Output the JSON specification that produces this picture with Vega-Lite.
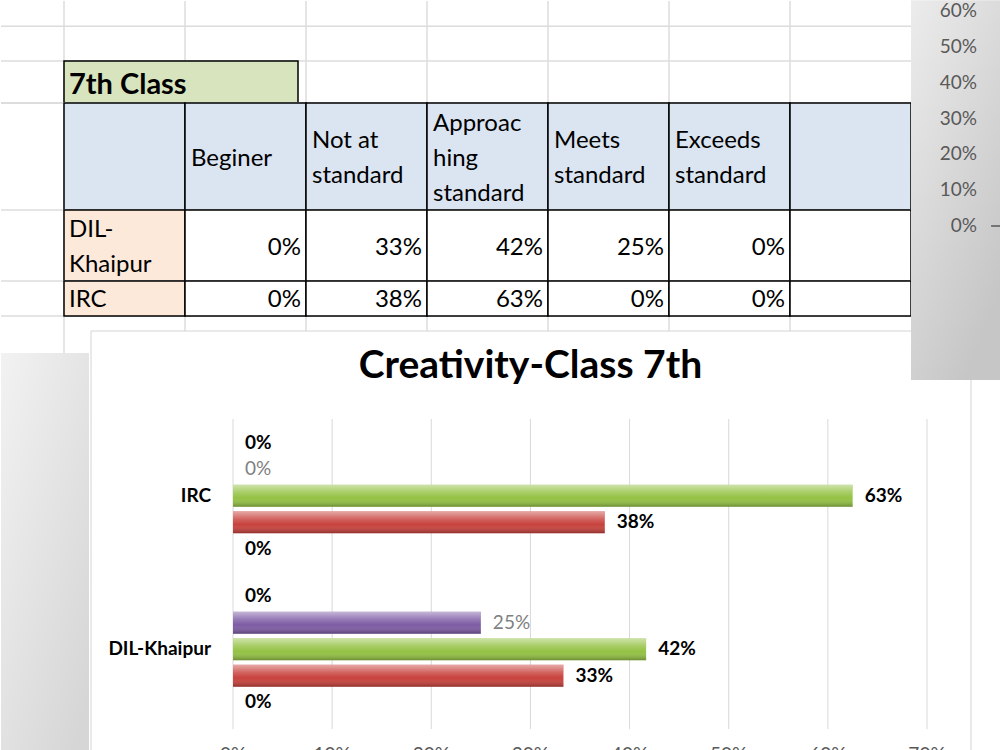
{
  "$schema": "https://vega.github.io/schema/vega-lite/v6.json",
  "width": 1000,
  "height": 750,
  "autosize": {"type": "fit", "contains": "padding"},
  "padding": 0,
  "background": "#ffffff",
  "config": {"view": {"stroke": null}, "font": "Lato"},
  "datasets": {
    "scores": [
      {"school": "DIL-Khaipur", "level": "Beginer", "value": 0},
      {"school": "DIL-Khaipur", "level": "Not at standard", "value": 0.3333},
      {"school": "DIL-Khaipur", "level": "Approaching standard", "value": 0.4167},
      {"school": "DIL-Khaipur", "level": "Meets standard", "value": 0.25},
      {"school": "DIL-Khaipur", "level": "Exceeds standard", "value": 0},
      {"school": "IRC", "level": "Beginer", "value": 0},
      {"school": "IRC", "level": "Not at standard", "value": 0.375},
      {"school": "IRC", "level": "Approaching standard", "value": 0.625},
      {"school": "IRC", "level": "Meets standard", "value": 0},
      {"school": "IRC", "level": "Exceeds standard", "value": 0}
    ],
    "columns": [
      {"column": "School", "header": ""},
      {"column": "Beginer", "header": "Beginer"},
      {"column": "Not at standard", "header": "Not at\nstandard"},
      {"column": "Approaching standard", "header": "Approac\nhing\nstandard"},
      {"column": "Meets standard", "header": "Meets\nstandard"},
      {"column": "Exceeds standard", "header": "Exceeds\nstandard"},
      {"column": "Blank", "header": ""}
    ],
    "schools": [
      {"school": "DIL-Khaipur", "cell": "DIL-\nKhaipur"},
      {"school": "IRC", "cell": "IRC"}
    ],
    "ticks": [
      {"tick": 0}, {"tick": 0.1}, {"tick": 0.2}, {"tick": 0.3},
      {"tick": 0.4}, {"tick": 0.5}, {"tick": 0.6}, {"tick": 0.7}
    ],
    "sideTicks": [
      {"tick": 0}, {"tick": 0.1}, {"tick": 0.2}, {"tick": 0.3},
      {"tick": 0.4}, {"tick": 0.5}, {"tick": 0.6}
    ]
  },
  "resolve": {"scale": {"x": "independent", "y": "independent", "yOffset": "independent", "color": "independent"}},
  "layer": [
    {
      "data": {"name": "columns"},
      "mark": {"type": "rule", "color": "#dcdcdc", "strokeWidth": 1.5},
      "encoding": {
        "x": {"field": "column", "type": "nominal", "bandPosition": 0,
          "scale": {"domain": ["School", "Beginer", "Not at standard", "Approaching standard", "Meets standard", "Exceeds standard", "Blank"], "range": [63, 910], "paddingInner": 0, "paddingOuter": 0},
          "axis": null}
      }
    },
    {
      "data": {"values": [{"title": "7th Class"}]},
      "layer": [
        {
          "mark": {"type": "rule", "color": "#dcdcdc", "strokeWidth": 1.5},
          "encoding": {
            "y": {"datum": 0, "type": "quantitative", "scale": {"domain": [0, 1], "range": [60, 102]}, "axis": null}
          }
        },
        {
          "mark": {"type": "rule", "color": "#dcdcdc", "strokeWidth": 1.5},
          "encoding": {
            "y": {"datum": -0.83, "type": "quantitative", "scale": {"domain": [0, 1], "range": [60, 102]}, "axis": null}
          }
        },
        {
          "mark": {"type": "rect", "fill": "#d7e4bd", "stroke": "#000000", "strokeWidth": 1.5},
          "encoding": {
            "x": {"datum": 0, "type": "quantitative", "scale": {"domain": [0, 1], "range": [63, 297]}, "axis": null},
            "x2": {"datum": 1},
            "y": {"datum": 0, "type": "quantitative", "scale": {"domain": [0, 1], "range": [60, 102]}, "axis": null},
            "y2": {"datum": 1}
          }
        },
        {
          "mark": {"type": "text", "align": "left", "baseline": "middle", "dx": 5, "dy": 3, "fontSize": 29, "fontWeight": "bold", "color": "#000000"},
          "encoding": {
            "x": {"datum": 0, "type": "quantitative", "scale": {"domain": [0, 1], "range": [63, 297]}, "axis": null},
            "y": {"datum": 0.5, "type": "quantitative", "scale": {"domain": [0, 1], "range": [60, 102]}, "axis": null},
            "text": {"field": "title"}
          }
        }
      ]
    },
    {
      "data": {"name": "columns"},
      "encoding": {
        "x": {"field": "column", "type": "nominal",
          "scale": {"domain": ["School", "Beginer", "Not at standard", "Approaching standard", "Meets standard", "Exceeds standard", "Blank"], "range": [63, 910], "paddingInner": 0, "paddingOuter": 0},
          "axis": null}
      },
      "layer": [
        {
          "mark": {"type": "rule", "color": "#dcdcdc", "strokeWidth": 1.5},
          "encoding": {
            "x": null,
            "y": {"datum": 0, "type": "quantitative", "scale": {"domain": [0, 1], "range": [102, 209]}, "axis": null}
          }
        },
        {
          "mark": {"type": "rect", "fill": "#dbe5f1", "stroke": "#000000", "strokeWidth": 1.5},
          "encoding": {
            "y": {"datum": 0, "type": "quantitative", "scale": {"domain": [0, 1], "range": [102, 209]}, "axis": null},
            "y2": {"datum": 1}
          }
        },
        {
          "transform": [{"filter": "length(split(datum.header, '\\n')) === 1"}],
          "mark": {"type": "text", "align": "left", "baseline": "middle", "dx": 6, "dy": 2, "fontSize": 24, "lineBreak": "\n", "lineHeight": 35, "color": "#000000"},
          "encoding": {
            "x": {"field": "column", "type": "nominal", "bandPosition": 0, "axis": null},
            "y": {"datum": 0.5, "type": "quantitative", "scale": {"domain": [0, 1], "range": [102, 209]}, "axis": null},
            "text": {"field": "header"}
          }
        },
        {
          "transform": [{"filter": "length(split(datum.header, '\\n')) === 2"}],
          "mark": {"type": "text", "align": "left", "baseline": "middle", "dx": 6, "dy": -15.5, "fontSize": 24, "lineBreak": "\n", "lineHeight": 35, "color": "#000000"},
          "encoding": {
            "x": {"field": "column", "type": "nominal", "bandPosition": 0, "axis": null},
            "y": {"datum": 0.5, "type": "quantitative", "scale": {"domain": [0, 1], "range": [102, 209]}, "axis": null},
            "text": {"field": "header"}
          }
        },
        {
          "transform": [{"filter": "length(split(datum.header, '\\n')) === 3"}],
          "mark": {"type": "text", "align": "left", "baseline": "middle", "dx": 6, "dy": -33, "fontSize": 24, "lineBreak": "\n", "lineHeight": 35, "color": "#000000"},
          "encoding": {
            "x": {"field": "column", "type": "nominal", "bandPosition": 0, "axis": null},
            "y": {"datum": 0.5, "type": "quantitative", "scale": {"domain": [0, 1], "range": [102, 209]}, "axis": null},
            "text": {"field": "header"}
          }
        }
      ]
    },
    {
      "layer": [
        {
          "data": {"values": [{"line": "sheet row"}]},
          "mark": {"type": "rule", "color": "#dcdcdc", "strokeWidth": 1.5},
          "encoding": {
            "y": {"datum": 0, "type": "quantitative", "scale": {"domain": [0, 1], "range": [209, 280]}, "axis": null}
          }
        },
        {
          "data": {"name": "columns"},
          "mark": {"type": "rect", "stroke": "#000000", "strokeWidth": 1.5},
          "encoding": {
            "x": {"field": "column", "type": "nominal",
              "scale": {"domain": ["School", "Beginer", "Not at standard", "Approaching standard", "Meets standard", "Exceeds standard", "Blank"], "range": [63, 910], "paddingInner": 0, "paddingOuter": 0},
              "axis": null},
            "y": {"datum": 0, "type": "quantitative", "scale": {"domain": [0, 1], "range": [209, 280]}, "axis": null},
            "y2": {"datum": 1},
            "color": {"condition": {"test": "datum.column === 'School'", "value": "#fde9d9"}, "value": "#ffffff"}
          }
        },
        {
          "data": {"name": "schools"},
          "transform": [{"filter": "datum.school === 'DIL-Khaipur'"}],
          "mark": {"type": "text", "align": "left", "baseline": "middle", "dx": 5, "dy": -16, "fontSize": 24, "lineBreak": "\n", "lineHeight": 35, "color": "#000000"},
          "encoding": {
            "x": {"datum": "School", "type": "nominal", "bandPosition": 0,
              "scale": {"domain": ["School", "Beginer", "Not at standard", "Approaching standard", "Meets standard", "Exceeds standard", "Blank"], "range": [63, 910], "paddingInner": 0, "paddingOuter": 0},
              "axis": null},
            "y": {"datum": 0.5, "type": "quantitative", "scale": {"domain": [0, 1], "range": [209, 280]}, "axis": null},
            "text": {"field": "cell"}
          }
        },
        {
          "data": {"name": "scores"},
          "transform": [{"filter": "datum.school === 'DIL-Khaipur'"}],
          "mark": {"type": "text", "align": "right", "baseline": "middle", "dx": -5, "dy": 2, "fontSize": 24, "color": "#000000"},
          "encoding": {
            "x": {"field": "level", "type": "nominal", "bandPosition": 1,
              "scale": {"domain": ["School", "Beginer", "Not at standard", "Approaching standard", "Meets standard", "Exceeds standard", "Blank"], "range": [63, 910], "paddingInner": 0, "paddingOuter": 0},
              "axis": null},
            "y": {"datum": 0.5, "type": "quantitative", "scale": {"domain": [0, 1], "range": [209, 280]}, "axis": null},
            "text": {"field": "value", "type": "quantitative", "format": ".0%"}
          }
        }
      ]
    },
    {
      "layer": [
        {
          "data": {"values": [{"line": "sheet row"}]},
          "layer": [
            {
              "mark": {"type": "rule", "color": "#dcdcdc", "strokeWidth": 1.5},
              "encoding": {
                "y": {"datum": 0, "type": "quantitative", "scale": {"domain": [0, 1], "range": [280, 315]}, "axis": null}
              }
            },
            {
              "mark": {"type": "rule", "color": "#dcdcdc", "strokeWidth": 1.5},
              "encoding": {
                "y": {"datum": 1, "type": "quantitative", "scale": {"domain": [0, 1], "range": [280, 315]}, "axis": null}
              }
            }
          ]
        },
        {
          "data": {"name": "columns"},
          "mark": {"type": "rect", "stroke": "#000000", "strokeWidth": 1.5},
          "encoding": {
            "x": {"field": "column", "type": "nominal",
              "scale": {"domain": ["School", "Beginer", "Not at standard", "Approaching standard", "Meets standard", "Exceeds standard", "Blank"], "range": [63, 910], "paddingInner": 0, "paddingOuter": 0},
              "axis": null},
            "y": {"datum": 0, "type": "quantitative", "scale": {"domain": [0, 1], "range": [280, 315]}, "axis": null},
            "y2": {"datum": 1},
            "color": {"condition": {"test": "datum.column === 'School'", "value": "#fde9d9"}, "value": "#ffffff"}
          }
        },
        {
          "data": {"name": "schools"},
          "transform": [{"filter": "datum.school === 'IRC'"}],
          "mark": {"type": "text", "align": "left", "baseline": "middle", "dx": 5, "dy": 1, "fontSize": 24, "lineBreak": "\n", "lineHeight": 35, "color": "#000000"},
          "encoding": {
            "x": {"datum": "School", "type": "nominal", "bandPosition": 0,
              "scale": {"domain": ["School", "Beginer", "Not at standard", "Approaching standard", "Meets standard", "Exceeds standard", "Blank"], "range": [63, 910], "paddingInner": 0, "paddingOuter": 0},
              "axis": null},
            "y": {"datum": 0.5, "type": "quantitative", "scale": {"domain": [0, 1], "range": [280, 315]}, "axis": null},
            "text": {"field": "cell"}
          }
        },
        {
          "data": {"name": "scores"},
          "transform": [{"filter": "datum.school === 'IRC'"}],
          "mark": {"type": "text", "align": "right", "baseline": "middle", "dx": -5, "dy": 1, "fontSize": 24, "color": "#000000"},
          "encoding": {
            "x": {"field": "level", "type": "nominal", "bandPosition": 1,
              "scale": {"domain": ["School", "Beginer", "Not at standard", "Approaching standard", "Meets standard", "Exceeds standard", "Blank"], "range": [63, 910], "paddingInner": 0, "paddingOuter": 0},
              "axis": null},
            "y": {"datum": 0.5, "type": "quantitative", "scale": {"domain": [0, 1], "range": [280, 315]}, "axis": null},
            "text": {"field": "value", "type": "quantitative", "format": ".0%"}
          }
        }
      ]
    },
    {
      "data": {"values": [{"panel": "chart"}]},
      "mark": {"type": "rect", "fill": "#ffffff", "stroke": "#d4d4d4", "strokeWidth": 1},
      "encoding": {
        "x": {"datum": 0, "type": "quantitative", "scale": {"domain": [0, 1], "range": [90, 970]}, "axis": null},
        "x2": {"datum": 1},
        "y": {"datum": 0, "type": "quantitative", "scale": {"domain": [0, 1], "range": [330, 770]}, "axis": null},
        "y2": {"datum": 1}
      }
    },
    {
      "layer": [
        {
          "data": {"name": "ticks"},
          "mark": {"type": "rule", "color": "#d9d9d9", "strokeWidth": 1},
          "encoding": {
            "x": {"field": "tick", "type": "quantitative", "scale": {"domain": [0, 0.7], "range": [232, 926], "nice": false, "zero": false}, "axis": null},
            "y": {"datum": -0.01, "type": "quantitative", "scale": {"domain": [0, 1], "range": [725, 418]}, "axis": null},
            "y2": {"datum": 1}
          }
        },
        {
          "data": {"name": "ticks"},
          "mark": {"type": "text", "align": "center", "baseline": "top", "dy": 20, "fontSize": 19, "color": "#595959"},
          "encoding": {
            "x": {"field": "tick", "type": "quantitative", "scale": {"domain": [0, 0.7], "range": [232, 926], "nice": false, "zero": false}, "axis": null},
            "y": {"datum": 0, "type": "quantitative", "scale": {"domain": [0, 1], "range": [725, 418]}, "axis": null},
            "text": {"field": "tick", "type": "quantitative", "format": ".0%"}
          }
        },
        {
          "data": {"values": [{"title": "Creativity-Class 7th"}]},
          "mark": {"type": "text", "align": "center", "baseline": "middle", "dy": -53, "fontSize": 39, "fontWeight": "bold", "color": "#000000"},
          "encoding": {
            "x": {"datum": 0.3, "type": "quantitative", "scale": {"domain": [0, 0.7], "range": [232, 926], "nice": false, "zero": false}, "axis": null},
            "y": {"datum": 1, "type": "quantitative", "scale": {"domain": [0, 1], "range": [725, 418]}, "axis": null},
            "text": {"field": "title"}
          }
        }
      ]
    },
    {
      "data": {"name": "schools"},
      "mark": {"type": "text", "align": "right", "baseline": "middle", "dx": -22, "fontSize": 19, "fontWeight": "bold", "color": "#000000"},
      "encoding": {
        "x": {"datum": 0, "type": "quantitative", "scale": {"domain": [0, 0.7], "range": [232, 926], "nice": false, "zero": false}, "axis": null},
        "y": {"field": "school", "type": "nominal", "scale": {"domain": ["IRC", "DIL-Khaipur"], "range": [418, 725], "paddingInner": 0, "paddingOuter": 0}, "axis": null},
        "text": {"field": "school", "type": "nominal"}
      }
    },
    {
      "data": {"name": "scores"},
      "encoding": {
        "x": {"field": "value", "type": "quantitative", "scale": {"domain": [0, 0.7], "range": [232, 926], "nice": false, "zero": false}, "axis": null},
        "y": {"field": "school", "type": "nominal", "scale": {"domain": ["IRC", "DIL-Khaipur"], "range": [418, 725], "paddingInner": 0, "paddingOuter": 0}, "axis": null},
        "yOffset": {"field": "level", "type": "nominal", "scale": {"domain": ["Exceeds standard", "Meets standard", "Approaching standard", "Not at standard", "Beginer"], "paddingInner": 0.17, "paddingOuter": 0.48}}
      },
      "layer": [
        {
          "mark": {"type": "bar"},
          "encoding": {
            "color": {"field": "level", "type": "nominal", "scale": {"domain": ["Beginer", "Not at standard", "Approaching standard", "Meets standard", "Exceeds standard"], "range": ["#4F81BD", "#C8423D", "#94C244", "#7E5CA5", "#4BACC6"]}, "legend": null}
          }
        },
        {
          "mark": {"type": "bar", "fill": {"gradient": "linear", "x1": 0, "y1": 0, "x2": 0, "y2": 1, "stops": [{"offset": 0, "color": "rgba(255,255,255,0.55)"}, {"offset": 0.35, "color": "rgba(255,255,255,0.18)"}, {"offset": 0.6, "color": "rgba(255,255,255,0)"}, {"offset": 1, "color": "rgba(0,0,0,0.28)"}]}}
        },
        {
          "transform": [{"filter": "datum.level !== 'Meets standard'"}],
          "mark": {"type": "text", "align": "left", "baseline": "middle", "dx": 12, "fontSize": 19, "fontWeight": "bold", "color": "#000000"},
          "encoding": {
            "text": {"field": "value", "type": "quantitative", "format": ".0%"}
          }
        },
        {
          "transform": [{"filter": "datum.level === 'Meets standard'"}],
          "mark": {"type": "text", "align": "left", "baseline": "middle", "dx": 12, "fontSize": 19, "color": "#7f7f7f"},
          "encoding": {
            "text": {"field": "value", "type": "quantitative", "format": ".0%"}
          }
        }
      ]
    },
    {
      "layer": [
        {
          "data": {"values": [{"panel": "side chart"}]},
          "mark": {"type": "rect", "fill": {"gradient": "linear", "x1": 0, "y1": 0, "x2": 0.6, "y2": 1, "stops": [{"offset": 0, "color": "#ececec"}, {"offset": 1, "color": "#c6c6c6"}]}},
          "encoding": {
            "x": {"datum": 0, "type": "quantitative", "scale": {"domain": [0, 1], "range": [910, 1000]}, "axis": null},
            "x2": {"datum": 1},
            "y": {"datum": 0.63, "type": "quantitative", "scale": {"domain": [0, 0.6], "range": [225, 10]}, "axis": null},
            "y2": {"datum": -0.43}
          }
        },
        {
          "data": {"values": [{"panel": "side chart"}]},
          "mark": {"type": "rule", "color": "#595959", "strokeWidth": 1.5},
          "encoding": {
            "x": {"datum": 0.89, "type": "quantitative", "scale": {"domain": [0, 1], "range": [910, 1000]}, "axis": null},
            "x2": {"datum": 1},
            "y": {"datum": 0, "type": "quantitative", "scale": {"domain": [0, 0.6], "range": [225, 10]}, "axis": null}
          }
        },
        {
          "data": {"name": "sideTicks"},
          "mark": {"type": "text", "align": "right", "baseline": "middle", "dx": -24, "fontSize": 19, "color": "#595959"},
          "encoding": {
            "x": {"datum": 1, "type": "quantitative", "scale": {"domain": [0, 1], "range": [910, 1000]}, "axis": null},
            "y": {"field": "tick", "type": "quantitative", "scale": {"domain": [0, 0.6], "range": [225, 10]}, "axis": null},
            "text": {"field": "tick", "type": "quantitative", "format": ".0%"}
          }
        }
      ]
    },
    {
      "data": {"values": [{"panel": "pie chart"}]},
      "mark": {"type": "rect", "fill": {"gradient": "linear", "x1": 0, "y1": 0, "x2": 0.8, "y2": 1, "stops": [{"offset": 0, "color": "#f2f2f2"}, {"offset": 1, "color": "#d6d6d6"}]}},
      "encoding": {
        "x": {"datum": 0, "type": "quantitative", "scale": {"domain": [0, 1], "range": [0, 88]}, "axis": null},
        "x2": {"datum": 1},
        "y": {"datum": 0, "type": "quantitative", "scale": {"domain": [0, 1], "range": [352, 760]}, "axis": null},
        "y2": {"datum": 1}
      }
    }
  ]
}
